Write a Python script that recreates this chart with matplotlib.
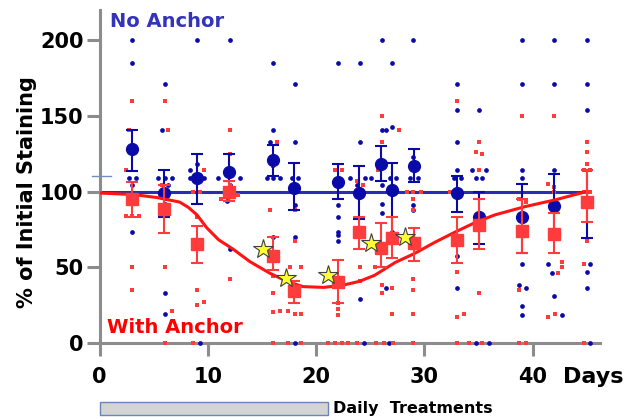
import matplotlib
matplotlib.use("Agg")
import matplotlib.pyplot as plt
import matplotlib.transforms as mtransforms
from matplotlib.patches import Rectangle

# group means: day, mean, lower end of error bar, upper end
days = [3, 6, 9, 12, 16, 18, 22, 24, 26, 27, 29, 33, 35, 39, 42, 45]
blue_mean = [128, 99, 108.7, 113, 121, 102, 106.5, 98.8, 118, 101, 117, 98.8, 83, 83, 90.6, 93]
blue_low = [113.6, 83, 92, 94, 110, 87.7, 95, 82, 107, 72.5, 106, 86.6, 65, 59.5, 70, 69]
blue_high = [140.7, 114, 125, 125, 131, 118.6, 118, 117, 130, 119, 128, 110, 100, 105, 111.6, 114]
red_mean = [95, 88.4, 65, 100, 57, 34, 40, 73, 62.4, 69, 65.7, 68, 78, 74, 72, 93]
red_low = [83, 72.7, 52.4, 94, 48, 26, 26, 62, 50, 56, 54, 52.4, 62, 59, 59, 80]
red_high = [106, 104, 77.4, 107, 70, 41, 54.6, 83, 79, 83, 75.6, 83, 95, 95, 85.6, 114]

# individual animals, no anchor (day, % staining)
blue_dots = [
    (3.0, 200), (3.0, 185), (2.7, 109), (3.35, 109), (3.0, 104), (3.0, 73),
    (6.05, 171), (5.75, 141), (5.4, 109), (6.05, 109), (6.7, 109), (6.35, 104), (6.05, 92), (6.05, 33), (6.05, 19),
    (9.0, 200), (9.0, 118), (8.35, 114), (8.35, 109), (9.65, 109), (9.3, 0),
    (12.05, 200), (10.95, 109), (12.95, 109), (12.05, 104), (11.75, 94), (12.05, 62),
    (16.05, 185), (16.05, 141), (15.75, 133), (15.45, 109), (16.05, 109), (16.65, 109), (16.05, 70),
    (18.05, 171), (18.05, 133), (17.75, 109), (18.35, 109), (18.05, 91), (18.05, 70), (18.05, 0),
    (22.05, 185), (23.1, 109), (22.05, 91), (22.05, 83), (22.05, 73), (22.05, 71), (22.05, 67),
    (24.05, 185), (24.05, 133), (24.5, 109), (25.1, 109), (23.75, 104), (24.05, 29), (24.4, 0),
    (26.05, 200), (26.05, 141), (26.45, 141), (26.05, 104), (26.05, 92), (26.05, 86), (26.45, 36), (26.75, 0),
    (27.05, 185), (27.05, 143), (26.8, 109), (27.4, 109), (27.05, 73),
    (28.95, 200), (28.95, 123), (28.65, 109), (29.4, 109), (28.95, 91), (28.95, 88),
    (33.05, 171), (33.05, 154), (33.05, 133), (33.05, 114), (32.7, 109), (33.4, 109), (33.05, 57), (33.05, 36),
    (35.05, 154), (34.4, 114), (35.7, 114), (34.75, 109), (35.35, 109), (34.75, 0), (35.95, 0),
    (39.05, 200), (39.05, 171), (39.05, 114), (39.05, 109), (39.05, 52), (38.75, 38), (39.35, 36), (39.05, 24), (39.05, 18),
    (42.0, 200), (42.0, 171), (42.0, 114), (41.4, 52), (41.75, 46), (42.0, 31), (42.7, 18),
    (45.0, 200), (45.0, 171), (45.0, 154), (45.3, 52), (45.0, 47), (45.0, 36), (45.3, 0),
]

# individual animals, with anchor
red_dots = [
    (3.0, 160), (2.7, 141), (2.45, 114), (2.45, 84), (3.0, 84), (3.65, 84), (3.0, 50), (3.0, 35),
    (6.05, 160), (6.35, 141), (5.75, 104), (6.05, 100), (6.05, 95), (6.05, 50), (6.65, 21), (6.05, 0),
    (9.65, 114), (8.65, 100), (9.3, 100), (9.0, 83), (9.0, 35), (9.0, 25), (9.65, 27), (8.65, 0),
    (12.05, 141), (12.05, 125), (12.05, 104), (11.2, 95), (12.8, 98), (12.05, 42),
    (16.35, 133), (16.05, 117), (15.75, 88), (16.05, 44), (16.05, 33), (16.05, 20), (16.65, 21), (17.4, 21), (16.05, 0),
    (18.05, 88), (18.05, 67), (17.6, 50), (18.65, 50), (18.05, 19), (18.65, 19), (17.45, 0), (18.65, 0),
    (21.75, 114), (22.35, 114), (22.05, 104), (22.05, 26), (22.05, 22), (22.05, 18),
    (21.1, 0), (21.75, 0), (22.35, 0), (22.95, 0),
    (23.75, 107), (24.35, 104), (23.75, 100), (24.35, 100), (24.05, 50), (24.05, 41), (23.75, 0),
    (26.05, 150), (26.05, 133), (25.75, 114), (25.45, 50), (26.05, 38), (26.05, 33), (25.5, 0), (26.25, 0),
    (27.65, 141), (26.75, 100), (27.35, 100), (27.05, 36), (27.05, 19), (27.1, 0),
    (28.35, 100), (28.95, 100), (29.65, 100), (28.95, 95), (28.95, 88), (28.95, 42), (28.95, 35), (28.95, 19), (28.95, 0),
    (33.05, 160), (32.35, 100), (33.05, 100), (33.05, 47), (33.05, 17), (33.65, 19), (33.05, 0), (34.15, 0),
    (35.05, 133), (34.75, 126), (35.35, 125), (35.05, 114), (35.05, 33), (35.35, 0),
    (39.05, 150), (38.75, 95), (39.35, 93), (38.75, 35), (38.75, 0), (39.35, 0),
    (42.0, 150), (41.45, 105), (42.0, 103), (42.0, 100), (42.7, 53), (42.7, 50), (42.35, 46), (42.05, 19), (41.45, 17),
    (45.0, 133), (45.0, 126), (45.0, 118), (44.7, 114), (45.3, 114), (44.7, 100), (45.3, 100), (45.0, 67), (44.7, 52), (44.7, 0),
]

# fitted curve for the anchored group
fit_days = [0, 3.1, 5.3, 7.4, 8.2, 9.0, 9.9, 11.0, 12.3, 13.9, 15.7, 17.3, 18.8, 20.7,
            22.5, 24.0, 25.4, 27.3, 29.1, 31.0, 32.8, 34.7, 36.5, 39.3, 42.1, 45]
fit_vals = [99, 98, 96, 93, 89.5, 84.5, 76, 68, 62, 53.5, 46, 40.5, 37, 36.5,
            38, 40.5, 44.5, 53, 59, 66.5, 73, 79.5, 84.5, 90, 94.5, 100]

# reference level for the no-anchor group
ref_days = [0, 45]
ref_level = 100

star_days = [15.1, 17.2, 21.1, 25.1, 28.2]
star_vals = [61.7, 42.5, 45, 65.7, 70]

treat_start, treat_end = 0, 21.1

BLUE = "#0a0aa8"
RED = "#ff3b3b"
GREY = "#8c8c8c"

plt.rcParams["font.family"] = "DejaVu Sans"
plt.rcParams["font.weight"] = "bold"

fig = plt.figure(figsize=(6.33, 4.2), dpi=100)
ax = fig.add_axes([0.1572, 0.1845, 0.7904, 0.791])

ax.plot(ref_days, [ref_level, ref_level], color="#2c2cb0", lw=2.2, zorder=2)
ax.plot([-0.7, 1.1], [110.5, 110.5], color="#7090c0", lw=1, clip_on=False, zorder=2)

bx = [p[0] for p in blue_dots]
by = [p[1] for p in blue_dots]
rx = [p[0] for p in red_dots]
ry = [p[1] for p in red_dots]

ax.plot(bx, by, "o", color=BLUE, ms=3.4, mew=0, clip_on=False, zorder=4)
ax.plot(rx, ry, "s", color=RED, ms=3.4, mew=0, clip_on=False, zorder=4)

b_err = [[m - lo for m, lo in zip(blue_mean, blue_low)], [hi - m for m, hi in zip(blue_mean, blue_high)]]
r_err = [[m - lo for m, lo in zip(red_mean, red_low)], [hi - m for m, hi in zip(red_mean, red_high)]]

ax.errorbar(days, blue_mean, yerr=b_err, fmt="o", color=BLUE, ms=8.5, elinewidth=1.5,
            capsize=4.5, capthick=1.5, zorder=5)
ax.plot(fit_days, fit_vals, color="#ff1414", lw=2.2, zorder=6)
ax.errorbar(days, red_mean, yerr=r_err, fmt="s", color=RED, ms=8.5, elinewidth=1.5,
            capsize=4.5, capthick=1.5, zorder=7)

ax.plot(star_days, star_vals, "*", ms=15, mfc="#ffff33", mec="#404040", mew=0.8, zorder=8)

ax.set_xlim(0, 46.2)
ax.set_ylim(0, 220)
ax.set_xticks([0, 10, 20, 30, 40])
ax.set_yticks([0, 50, 100, 150, 200])
for s in ["top", "right"]:
    ax.spines[s].set_visible(False)
for s in ["left", "bottom"]:
    ax.spines[s].set_color(GREY)
    ax.spines[s].set_linewidth(2.2)
ax.tick_params(axis="both", length=9.4, width=2.2, color=GREY, labelsize=15)
ax.tick_params(axis="y", pad=2)
ax.tick_params(axis="x", pad=8)
for lab in ax.get_xticklabels() + ax.get_yticklabels():
    lab.set_fontweight("bold")

fig.text(27.5 / 633, 0.5417, "% of Initial Staining", rotation=90, ha="center", va="center",
         fontsize=15, fontweight="bold")
fig.text(563 / 633, 37 / 420, "Days", ha="left", va="baseline", fontsize=16, fontweight="bold")
fig.text(110 / 633, 393.3 / 420, "No Anchor", ha="left", va="baseline", fontsize=14,
         fontweight="bold", color="#3333bb")
fig.text(107 / 633, 86.7 / 420, "With Anchor", ha="left", va="baseline", fontsize=14,
         fontweight="bold", color="#ff0000")

trans = mtransforms.blended_transform_factory(ax.transData, fig.transFigure)
ax.add_patch(Rectangle((treat_start, 5.5 / 420), treat_end - treat_start, 12.5 / 420,
                       transform=trans, facecolor="#d4d4d4", edgecolor="#6a86b8",
                       lw=1, clip_on=False))
fig.text(333 / 633, 7 / 420, "Daily  Treatments", ha="left", va="baseline", fontsize=11.5,
         fontweight="bold")

fig.savefig("out.png", dpi=100)
